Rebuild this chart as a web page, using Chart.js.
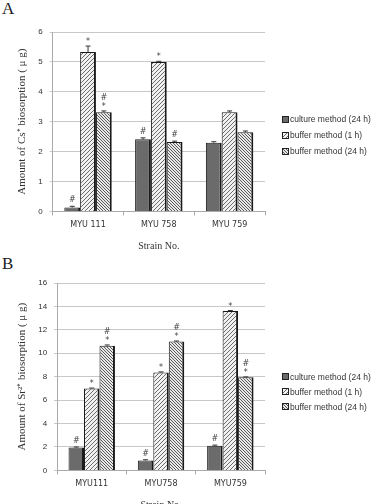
<!DOCTYPE html>
<html>
<head>
<meta charset="utf-8">
<script src="https://cdn.jsdelivr.net/npm/chart.js@4/dist/chart.umd.min.js"></script>
<style>
  html, body { margin: 0; padding: 0; background: #fff; overflow: hidden; }
  body { width: 371px; height: 504px; position: relative; }
  .panel { position: absolute; left: 0; width: 371px; }
  #panelA { top: 0; height: 252px; }
  #panelB { top: 252px; height: 264px; }
  .letter { position: absolute; left: 2px; font: 17px "Liberation Serif", serif; color: #222; }
  .legend { position: absolute; left: 282px; font: 8.5px "Liberation Sans", sans-serif; color: #333; }
  .legend div { display: flex; align-items: center; white-space: nowrap; }
  .legend canvas { width: 7px; height: 7px; box-sizing: border-box; border: 1px solid #222; margin-right: 1px; }
</style>
</head>
<body>
<div class="letter" style="top:-1px">A</div>
<div class="letter" style="top:254px">B</div>
<div class="panel" id="panelA"><canvas id="chartA"></canvas></div>
<div class="panel" id="panelB"><canvas id="chartB"></canvas></div>
<div class="legend" id="legendA" style="top:111px"></div>
<div class="legend" id="legendB" style="top:369px"></div>

<script>
const seriesNames = ['culture method (24 h)', 'buffer method (1 h)', 'buffer method (24 h)'];

// panel A : Cs+
const strainsA = ['MYU 111', 'MYU 758', 'MYU 759'];
const cultureA = [0.13, 2.41, 2.3];
const buffer1hA = [5.33, 5.0, 3.32];
const buffer24hA = [3.32, 2.32, 2.65];
const errCultureA = [0.04, 0.05, 0.03];
const errBuffer1hA = [0.2, 0.02, 0.04];
const errBuffer24hA = [0.04, 0.03, 0.04];
const sigCultureA = ['#', '#', ''];
const sigBuffer1hA = ['*', '*', ''];
const sigBuffer24hA = ['#*', '#', ''];

// panel B : Sr2+
const strainsB = ['MYU111', 'MYU758', 'MYU759'];
const cultureB = [1.95, 0.85, 2.1];
const buffer1hB = [7.0, 8.35, 13.6];
const buffer24hB = [10.65, 11.0, 7.95];
const errCultureB = [0.05, 0.06, 0.06];
const errBuffer1hB = [0.03, 0.06, 0.05];
const errBuffer24hB = [0.06, 0.05, 0.03];
const sigCultureB = ['#', '#', '#'];
const sigBuffer1hB = ['*', '*', '*'];
const sigBuffer24hB = ['#*', '#*', '#*'];

function hatch(dir, bg, fg, size) {
  const c = document.createElement('canvas');
  c.width = size; c.height = size;
  const g = c.getContext('2d');
  g.fillStyle = bg;
  g.fillRect(0, 0, size, size);
  g.strokeStyle = fg;
  g.lineWidth = 1;
  g.beginPath();
  if (dir === '/') {
    g.moveTo(0, size); g.lineTo(size, 0);
    g.moveTo(-1, 1); g.lineTo(1, -1);
    g.moveTo(size - 1, size + 1); g.lineTo(size + 1, size - 1);
  } else {
    g.moveTo(0, 0); g.lineTo(size, size);
    g.moveTo(size - 1, -1); g.lineTo(size + 1, 1);
    g.moveTo(-1, size - 1); g.lineTo(1, size + 1);
  }
  g.stroke();
  return g.createPattern(c, 'repeat');
}

const fills = ['#6b6b6b', hatch('/', '#f2f2f2', '#6a6a6a', 4), hatch('\\', '#e8e8e8', '#5a5a5a', 3)];

// error bars and significance marks, positioned from the data through the scales
const extrasPlugin = {
  id: 'extras',
  afterDatasetsDraw(chart) {
    const ctx = chart.ctx;
    const y = chart.scales.y;
    chart.data.datasets.forEach((ds, i) => {
      const meta = chart.getDatasetMeta(i);
      meta.data.forEach((bar, j) => {
        const top = y.getPixelForValue(ds.data[j] + ds.err[j]);
        ctx.save();
        ctx.strokeStyle = '#333';
        ctx.lineWidth = 1;
        ctx.beginPath();
        ctx.moveTo(bar.x, bar.y);
        ctx.lineTo(bar.x, top);
        ctx.moveTo(bar.x - 2.5, top);
        ctx.lineTo(bar.x + 2.5, top);
        ctx.stroke();
        const marks = ds.sig[j];
        ctx.fillStyle = '#444';
        ctx.textAlign = 'center';
        ctx.textBaseline = 'bottom';
        ctx.font = '8px "DejaVu Sans"';
        let yy = top - 2;
        for (let k = marks.length - 1; k >= 0; k--) {
          ctx.fillText(marks[k], bar.x, yy + (marks[k] === '*' ? 2 : 0));
          yy -= 7;
        }
        ctx.restore();
      });
    });
  }
};

function buildLegend(id) {
  const box = document.getElementById(id);
  seriesNames.forEach((name, i) => {
    const row = document.createElement('div');
    row.style.height = (id === 'legendA' ? 16 : 15) + 'px';
    const sw = document.createElement('canvas');
    sw.width = 5; sw.height = 5;
    const g = sw.getContext('2d');
    g.fillStyle = fills[i];
    g.fillRect(0, 0, 5, 5);
    row.appendChild(sw);
    const t = document.createElement('span');
    t.textContent = name;
    row.appendChild(t);
    box.appendChild(row);
  });
}

function makeChart(id, labels, data, errs, sigs, yMax, yStep, yTitle, pad) {
  return new Chart(document.getElementById(id), {
    type: 'bar',
    data: {
      labels,
      datasets: seriesNames.map((name, i) => ({
        label: name,
        data: data[i],
        err: errs[i],
        sig: sigs[i],
        backgroundColor: fills[i],
        borderColor: '#1a1a1a',
        borderWidth: { top: 1, left: 1, right: 2, bottom: 0 },
        borderSkipped: false,
        barPercentage: 1,
        categoryPercentage: 0.67
      }))
    },
    options: {
      responsive: true,
      maintainAspectRatio: false,
      animation: false,
      layout: { padding: pad },
      plugins: {
        tooltip: { enabled: false },
        legend: { display: false }
      },
      scales: {
        x: {
          grid: { display: true, drawOnChartArea: false, drawTicks: true, tickLength: 4, color: '#aaa', offset: true },
          border: { color: '#aaa' },
          ticks: { color: '#333', font: { family: 'DejaVu Sans', size: 8 }, padding: 5 },
          title: { display: true, text: 'Strain No.', color: '#333', font: { family: 'Liberation Serif', size: 10 }, padding: { top: 5, bottom: 0 } }
        },
        y: {
          min: 0,
          max: yMax,
          ticks: { stepSize: yStep, color: '#333', font: { family: 'Liberation Sans', size: 8 }, padding: 7 },
          grid: { color: '#c8c8c8', tickLength: 3 },
          border: { color: '#aaa' },
          title: { display: true, text: yTitle, color: '#333', font: { family: 'Liberation Serif', size: 11 }, padding: 2 }
        }
      }
    },
    plugins: [extrasPlugin]
  });
}

makeChart('chartA', strainsA,
  [cultureA, buffer1hA, buffer24hA],
  [errCultureA, errBuffer1hA, errBuffer24hA],
  [sigCultureA, sigBuffer1hA, sigBuffer24hA],
  6, 1, 'Amount of Cs\u207A biosorption ( \u03BC g)',
  { left: 14, top: 32, right: 106, bottom: 0 });

makeChart('chartB', strainsB,
  [cultureB, buffer1hB, buffer24hB],
  [errCultureB, errBuffer1hB, errBuffer24hB],
  [sigCultureB, sigBuffer1hB, sigBuffer24hB],
  16, 2, 'Amount of Sr\u00B2\u207A biosorption ( \u03BC g)',
  { left: 14, top: 31, right: 106, bottom: 5 });

buildLegend('legendA');
buildLegend('legendB');
</script>
</body>
</html>
